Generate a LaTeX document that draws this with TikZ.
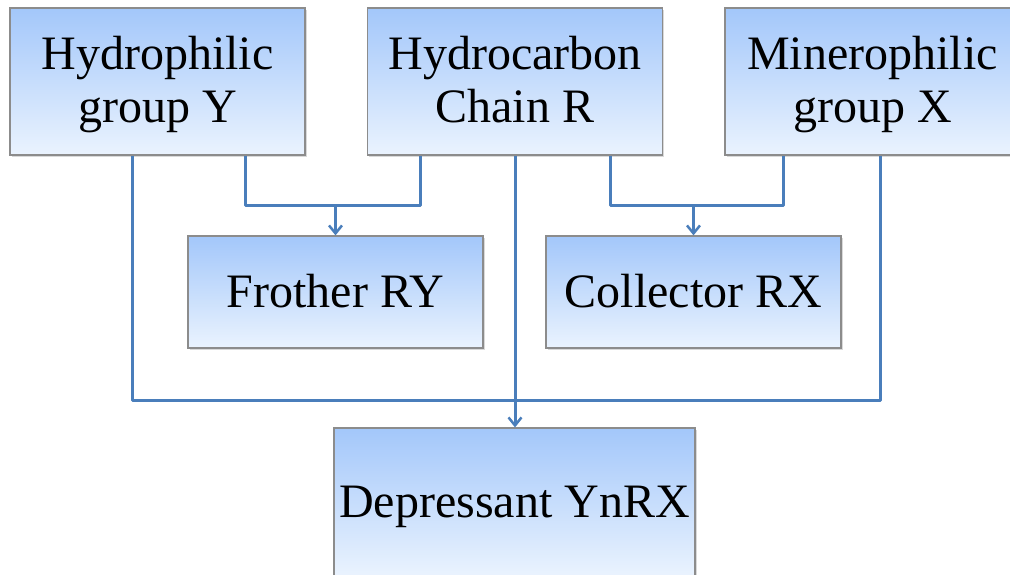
\documentclass[tikz,border=0pt]{standalone}
\usepackage{fontspec}
\setmainfont{Liberation Serif}
\usetikzlibrary{arrows.meta,shadows}
\definecolor{linkblue}{RGB}{74,126,187}
\definecolor{boxtop}{RGB}{163,199,250}
\definecolor{boxbot}{RGB}{234,243,254}
\definecolor{boxedge}{RGB}{140,140,140}
\newcommand\lnstrut{\rule[-11pt]{0pt}{52pt}}
\tikzset{
  box/.style={draw=boxedge, line width=1.2pt, top color=boxtop, bottom color=boxbot,
    minimum width=295pt, inner sep=0pt, align=center,
    font=\fontsize{48}{49}\selectfont,
    drop shadow={shadow xshift=1.5pt, shadow yshift=-2pt, opacity=0.25, fill=black!60}},
  tallbox/.style={box, minimum height=147pt},
  lowbox/.style={box, minimum height=112pt},
  link/.style={draw=linkblue, line width=3pt, line join=round},
  linkarrow/.style={link, -{Straight Barb[length=8pt,width=13pt,line width=2.5pt]}}
}
\begin{document}
\begin{tikzpicture}[x=1pt,y=-1pt]
\useasboundingbox (0,0) rectangle (1010,575);
\node[tallbox] (Y) at (157.5,81.5) {\lnstrut Hydrophilic\\\lnstrut group Y};
\node[tallbox] (R) at (515,81.5) {\lnstrut Hydrocarbon\\\lnstrut Chain R};
\node[tallbox, minimum width=310pt] (X) at (880,81.5) {\hspace*{-15pt}\lnstrut Minerophilic\\\hspace*{-15pt}\lnstrut group X};
\node[lowbox] (F) at (335.5,292) {\lnstrut Frother RY};
\node[lowbox] (C) at (693.5,292) {\lnstrut Collector RX};
\node[tallbox, minimum width=361pt, minimum height=148pt] (D) at (514.5,502) {\lnstrut Depressant YnRX};
% Y and X to the long bar
\draw[link] ([xshift=-25.5pt]Y.south) -- ++(0,245) -| (X.south);
% Y and R to Frother
\draw[link] ([xshift=87.5pt]Y.south) -- ++(0,50) coordinate (jf) -| ([xshift=-95pt]R.south);
\coordinate (jF) at (F.north |- jf);
\draw[linkarrow] (jF) -- (F.north);
% R and X to Collector
\draw[link] ([xshift=95pt]R.south) -- ++(0,50) coordinate (jc) -| ([xshift=-97pt]X.south);
\coordinate (jC) at (C.north |- jc);
\draw[linkarrow] (jC) -- (C.north);
% R to Depressant
\draw[linkarrow] (R.south) -- (R.south |- D.north);
\end{tikzpicture}
\end{document}
